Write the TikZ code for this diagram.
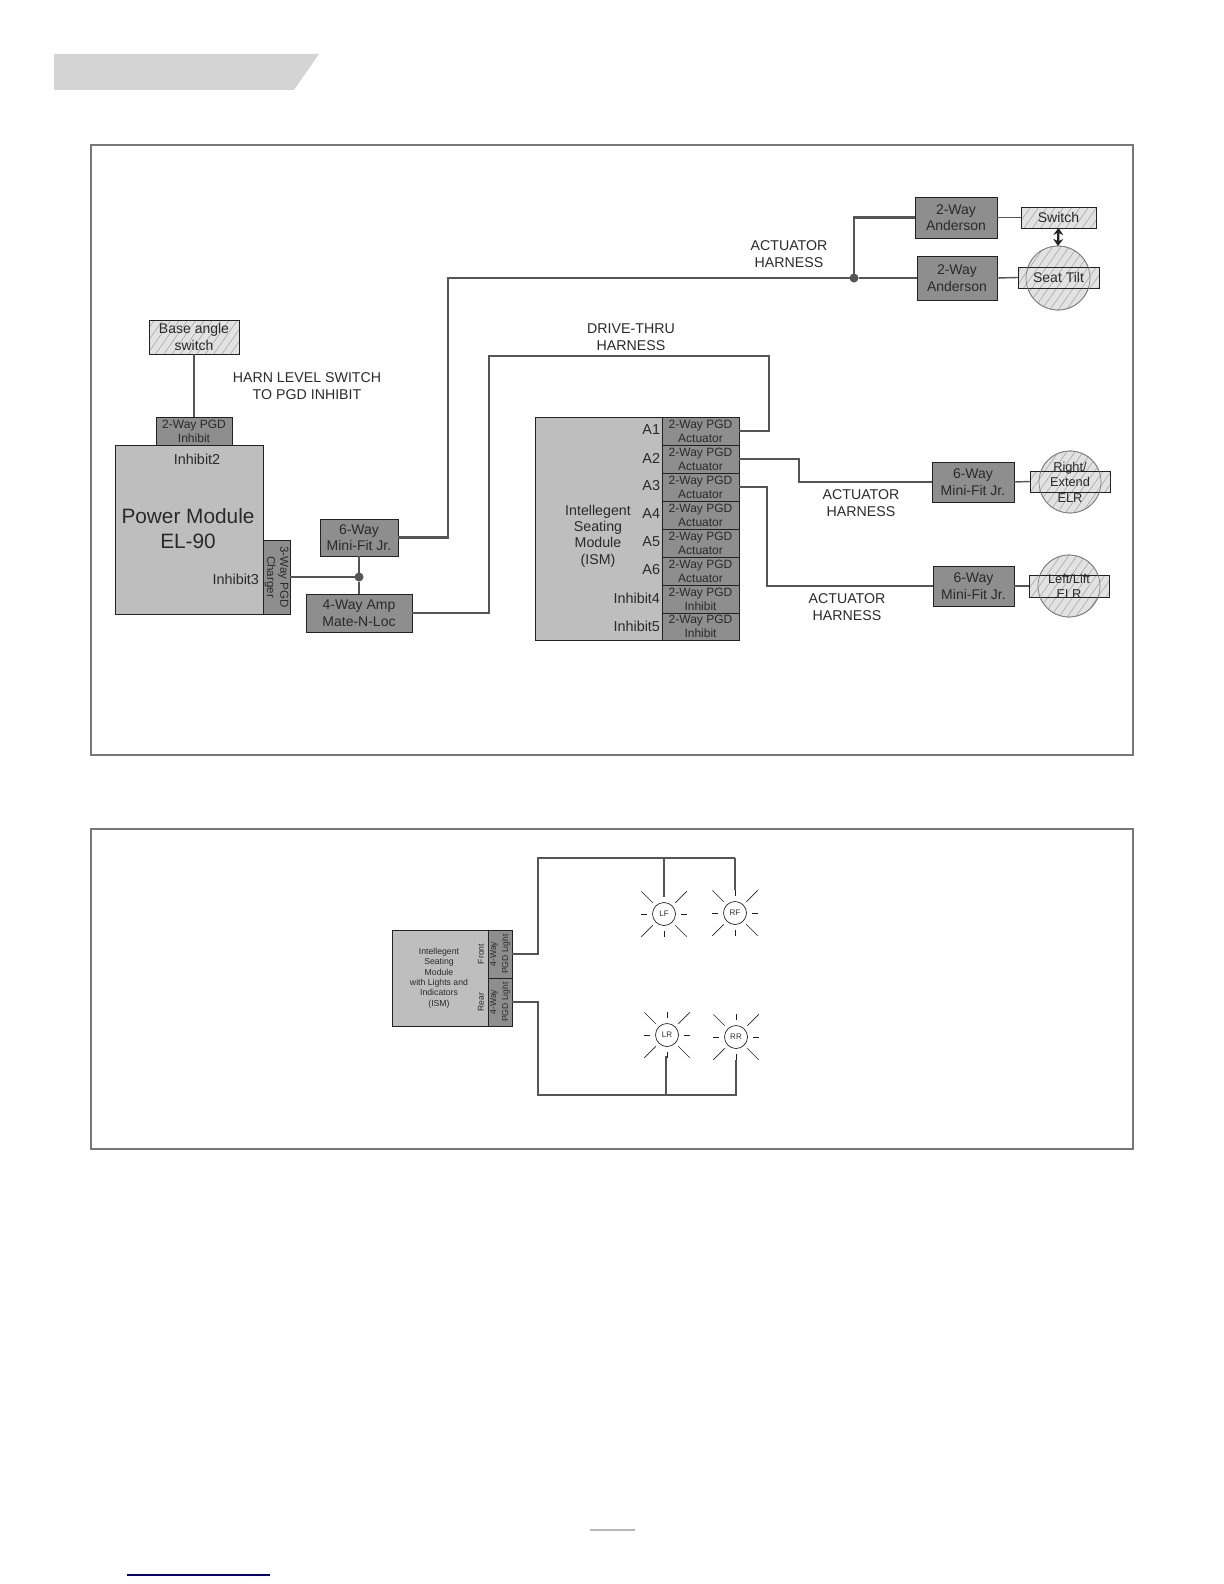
\documentclass[tikz,border=0pt]{standalone}
\usepackage{fontspec}
\setmainfont{Liberation Sans}
\usetikzlibrary{patterns.meta,calc,arrows.meta}
\definecolor{darkbox}{HTML}{8E8E8E}
\definecolor{modbox}{HTML}{BEBEBE}
\definecolor{edgec}{HTML}{222222}
\definecolor{wirec}{HTML}{555555}
\definecolor{hatchbg}{HTML}{E2E2E2}
\definecolor{hatchc}{HTML}{A8A8A8}
\definecolor{panelc}{HTML}{777777}
\definecolor{txt}{HTML}{2A2A2A}
\tikzset{
  every node/.style={inner sep=0pt,outer sep=0pt,text=txt},
  conn/.style={draw=edgec,fill=darkbox,line width=.45pt,align=center,font=\fontsize{7}{8.3}\selectfont},
  port/.style={draw=edgec,fill=darkbox,line width=.45pt,align=center,font=\fontsize{6}{7}\selectfont},
  module/.style={draw=edgec,fill=modbox,line width=.45pt},
  hatched/.style={draw=edgec,line width=.4pt,preaction={fill=hatchbg},pattern={Lines[angle=55,distance=3.4pt,line width=.3pt]},pattern color=hatchc,align=center,font=\fontsize{7}{8.2}\selectfont},
  hcircle/.style={circle,draw=gray,line width=.35pt,preaction={fill=hatchbg},pattern={Lines[angle=55,distance=3.4pt,line width=.3pt]},pattern color=hatchc},
  ring/.style={circle,draw=gray,line width=.35pt},
  lbl/.style={align=center,font=\fontsize{7.1}{8.2}\selectfont},
  pin/.style={anchor=east,font=\fontsize{7.2}{8.2}\selectfont},
  wire/.style={draw=wirec,line width=1.2pt},
  thin wire/.style={draw=wirec,line width=.7pt},
  panel/.style={draw=panelc,line width=1pt},
  dot/.style={circle,fill=wirec,minimum size=4.5pt},
  lamp/.style={circle,draw=edgec,line width=.35pt,minimum size=11.5pt,font=\fontsize{4}{5}\selectfont},
  ray/.style={draw=edgec,line width=.35pt},
}
\newcommand{\bx}[7]{%
  \pgfmathsetmacro\bcx{(#3+#5)/2}\pgfmathsetmacro\bcy{(#4+#6)/2}%
  \pgfmathsetmacro\bw{(#5-#3)*0.5}\pgfmathsetmacro\bh{(#6-#4)*0.5}%
  \node[#2,minimum width=\bw pt,minimum height=\bh pt] (#1) at (\bcx,\bcy) {#7};}
\newcommand{\lampat}[4]{%
  \node[lamp] (#1) at (#2,#3) {#4};
  \foreach \a in {0,90,180,270}{\draw[ray] ($(#1)+(\a:17)$) -- ($(#1)+(\a:23)$);}
  \foreach \a in {45,135,225,315}{\draw[ray] ($(#1)+(\a:16)$) -- ($(#1)+(\a:32)$);}}
\begin{document}
\begin{tikzpicture}[x=.5pt,y=-.5pt]
\useasboundingbox (0,0) rectangle (1224,1584);
% banner
\fill[black!17] (54,54) -- (319,54) -- (294,90) -- (54,90) -- cycle;
% panels
\bx{panA}{panel}{91}{145}{1133}{755}{}
\bx{panB}{panel}{91}{829}{1133}{1149}{}
% footer
\draw[black!28,line width=1pt] (590,1530) -- (635,1530);
\draw[blue!50!black,line width=.7pt] (127,1575) -- (270,1575);

% upper panel boxes
\bx{and1}{conn}{915}{197}{997}{238}{2-Way\\Anderson}
\bx{and2}{conn}{917}{256}{997}{300}{2-Way\\Anderson}
\bx{swi}{hatched}{1021}{207}{1096}{228}{Switch}
\node[hcircle,minimum size=32pt] (seatc) at (1058,278) {};
\bx{seat}{hatched}{1018}{267}{1099}{288}{}
\node[ring,minimum size=32pt] (seatr) at (seatc) {};
\node[font=\fontsize{7}{8.2}\selectfont] (seatt) at (seat) {Seat Tilt};

\bx{base}{hatched}{149}{320}{239}{354}{Base angle\\switch}
\bx{inh}{port}{156}{417}{232}{445}{2-Way PGD\\Inhibit}
\bx{pm}{module}{115}{445}{263}{614}{}
\bx{chg}{conn}{263}{540}{290}{614}{}
\node[rotate=-90,align=center,font=\fontsize{5.8}{6.6}\selectfont] (chgt) at (chg) {3-Way PGD\\Charger};
\node[font=\fontsize{7.2}{8}\selectfont] (inh2) at (197,459) {Inhibit2};
\node[align=center,font=\fontsize{10.4}{12.5}\selectfont] (pmt) at (188,529) {Power Module\\EL-90};
\node[pin] (inh3) at (259,579) {Inhibit3};
\bx{six}{conn}{320}{519}{398}{556}{6-Way\\Mini-Fit Jr.}
\bx{four}{conn}{306}{594}{412}{632}{4-Way Amp\\Mate-N-Loc}
\node[dot] (jn) at (359,577) {};
\node[dot] (jn2) at (854,278) {};

% ISM
\bx{ism}{module}{535}{417}{662}{640}{}
\bx{p1}{port}{662}{417}{739}{445}{2-Way PGD\\Actuator}
\bx{p2}{port}{662}{445}{739}{473}{2-Way PGD\\Actuator}
\bx{p3}{port}{662}{473}{739}{501}{2-Way PGD\\Actuator}
\bx{p4}{port}{662}{501}{739}{529}{2-Way PGD\\Actuator}
\bx{p5}{port}{662}{529}{739}{557}{2-Way PGD\\Actuator}
\bx{p6}{port}{662}{557}{739}{585}{2-Way PGD\\Actuator}
\bx{p7}{port}{662}{585}{739}{613}{2-Way PGD\\Inhibit}
\bx{p8}{port}{662}{613}{739}{640}{2-Way PGD\\Inhibit}
\node[pin] (a1) at (660,430) {A1};
\node[pin] (a2) at (660,458) {A2};
\node[pin] (a3) at (660,486) {A3};
\node[pin] (a4) at (660,514) {A4};
\node[pin] (a5) at (660,542) {A5};
\node[pin] (a6) at (660,570) {A6};
\node[pin] (i4) at (660,598) {Inhibit4};
\node[pin] (i5) at (660,626) {Inhibit5};
\node[lbl] (ismt) at (598,536) {Intellegent\\Seating\\Module\\(ISM)};

% ELR
\bx{six2}{conn}{932}{462}{1014}{502}{6-Way\\Mini-Fit Jr.}
\bx{six3}{conn}{933}{566}{1014}{606}{6-Way\\Mini-Fit Jr.}
\node[hcircle,minimum size=31pt] (rc) at (1070,482) {};
\bx{rr}{hatched}{1030}{471}{1110}{492}{}
\node[ring,minimum size=31pt] (rcr) at (rc) {};
\node[align=center,font=\fontsize{6.4}{7.8}\selectfont] (rt) at (rc) {Right/\\Extend\\ELR};
\node[hcircle,minimum size=31pt] (lc) at (1069,586) {};
\bx{lr}{hatched}{1029}{575}{1109}{597}{}
\node[ring,minimum size=31pt] (lcr) at (lc) {};
\node[align=center,font=\fontsize{6.4}{7.4}\selectfont] (lt) at (lc) {Left/Lift\\ELR};

% labels
\node[lbl] (l1) at (789,254) {ACTUATOR\\HARNESS};
\node[lbl] (l2) at (631,337) {DRIVE-THRU\\HARNESS};
\node[lbl] (l3) at (307,386) {HARN LEVEL SWITCH\\TO PGD INHIBIT};
\node[lbl] (l4) at (861,503) {ACTUATOR\\HARNESS};
\node[lbl] (l5) at (847,607) {ACTUATOR\\HARNESS};

% bends
\coordinate (ah) at (448,278);
\coordinate (d1) at (489,356);
\coordinate (d2) at (769,356);
\coordinate (a2k) at (799,482);
\coordinate (a3k) at (767,586);

% wires
\draw[thin wire] (base.south) -- (inh.north);
\draw[wire] (chg.east) -- (jn);
\draw[thin wire] (six.south) -- (jn) -- (four.north);
\draw[wire] (six.east) -| (ah) -- (jn2);
\draw[wire] (jn2) -- (and2.west);
\draw[wire] (jn2) |- (and1.west);
\draw[thin wire] (and1.east) -- (swi.west);
\draw[thin wire] (and2.east) -- (seat.west);
\draw[edgec,line width=1.1pt,{Stealth[length=3.5pt,width=5pt]}-{Stealth[length=3.5pt,width=5pt]}] (swi.south) -- (seatc.north);
\draw[wire] (four.east) -| (d1) -- (d2) |- (p1.east);
\draw[thin wire] (p2.east) -| (a2k) -- (six2.west);
\draw[thin wire] (p3.east) -| (a3k) -- (six3.west);
\draw[thin wire] (six2.east) -- (rr.west);
\draw[thin wire] (six3.east) -- (lr.west);

% lower panel
\bx{ism2}{module}{392}{930}{488}{1026}{}
\bx{pf}{conn}{488}{930}{512}{978}{}
\bx{pb}{conn}{488}{978}{512}{1026}{}
\node[rotate=90,align=center,font=\fontsize{4.3}{6}\selectfont] (pft) at (pf) {4-Way\\PGD Light};
\node[rotate=90,align=center,font=\fontsize{4.3}{6}\selectfont] (pbt) at (pb) {4-Way\\PGD Light};
\node[rotate=90,font=\fontsize{4.3}{5}\selectfont] (frt) at (481,954) {Front};
\node[rotate=90,font=\fontsize{4.3}{5}\selectfont] (rrt) at (481,1002) {Rear};
\node[align=center,font=\fontsize{4.35}{5.2}\selectfont] (ism2t) at (439,978) {Intellegent\\Seating\\Module\\with Lights and\\Indicators\\(ISM)};
\lampat{LF}{664}{914}{LF}
\lampat{RF}{735}{913}{RF}
\lampat{LR}{667}{1035}{LR}
\lampat{RRl}{736}{1037}{RR}
\coordinate (f1) at (538,858);
\coordinate (f2) at (664,858);
\coordinate (f3) at (735,858);
\coordinate (lfT) at (664,897);
\coordinate (rfT) at (735,890);
\coordinate (b1) at (538,1095);
\coordinate (b2) at (666,1095);
\coordinate (b3) at (736,1095);
\coordinate (lrB) at (666,1056);
\coordinate (rrB) at (736,1060);
\draw[wire] (pf.east) -| (f1) -- (f3);
\draw[thin wire] (f2) -- (lfT);
\draw[thin wire] (f3) -- (rfT);
\draw[wire] (pb.east) -| (b1) -- (b3) -- (rrB);
\draw[wire] (b2) -- (lrB);
\end{tikzpicture}
\end{document}
